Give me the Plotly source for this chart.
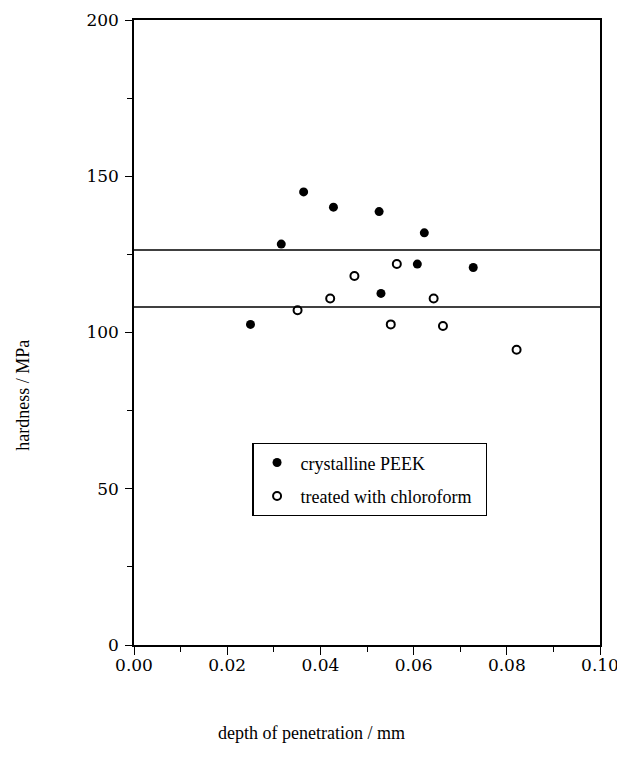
import plotly.graph_objects as go

# Data
peek_depth = [0.0250, 0.0316, 0.0364, 0.0428, 0.0526, 0.0530, 0.0608, 0.0623, 0.0728]
peek_hardness = [102.6, 128.3, 145.0, 140.1, 138.7, 112.5, 121.9, 131.9, 120.8]

chloro_depth = [0.0351, 0.0421, 0.0473, 0.0551, 0.0564, 0.0643, 0.0663, 0.0821]
chloro_hardness = [107.1, 110.9, 118.1, 102.6, 121.9, 110.9, 102.1, 94.5]

band_limits = [108.2, 126.4]

x_ticks = [0.00, 0.02, 0.04, 0.06, 0.08, 0.10]
y_ticks = [0, 50, 100, 150, 200]

series_names = ["crystalline PEEK", "treated with chloroform\u00a0\u00a0"]

serif = "Liberation Serif"
tickfont = dict(family="DejaVu Serif", size=17, color="black")

fig = go.Figure()
fig.add_trace(go.Scatter(
    x=peek_depth, y=peek_hardness, mode="markers", name=series_names[0],
    legendgroup="a",
    marker=dict(symbol="circle", size=9, color="black"),
))
fig.add_trace(go.Scatter(
    x=chloro_depth, y=chloro_hardness, mode="markers", name=series_names[1],
    legendgroup="b",
    marker=dict(symbol="circle-open", size=8, color="black", line=dict(width=2, color="black")),
))

for v in band_limits:
    fig.add_hline(y=v, line=dict(color="black", width=1.5))

fig.update_xaxes(
    range=[0, 0.1], tickvals=x_ticks, tickformat=".2f", automargin=False,
    showline=True, linecolor="black", linewidth=1.5, mirror=True,
    ticks="outside", ticklen=8, tickwidth=1.2, tickcolor="black",
    ticklabelstandoff=-4,
    minor=dict(dtick=0.01, ticks="outside", ticklen=5, tickwidth=1, tickcolor="black"),
    showgrid=False, zeroline=False, tickfont=tickfont,
)
fig.update_yaxes(
    range=[0, 200], tickvals=y_ticks, automargin=False,
    showline=True, linecolor="black", linewidth=1.5, mirror=True,
    ticks="outside", ticklen=7, tickwidth=1.2, tickcolor="black",
    ticklabelstandoff=3,
    minor=dict(dtick=25, ticks="outside", ticklen=5, tickwidth=1, tickcolor="black"),
    showgrid=False, zeroline=False, tickfont=tickfont,
)

fig.add_annotation(text="depth of penetration / mm", xref="paper", yref="paper",
                   x=0.38, y=-0.14, xanchor="center", yanchor="middle",
                   showarrow=False, font=dict(family=serif, size=18, color="black"))
fig.add_annotation(text="hardness / MPa", xref="paper", yref="paper",
                   x=-0.239, y=0.40, textangle=-90, xanchor="center", yanchor="middle",
                   showarrow=False, font=dict(family=serif, size=18, color="black"))

fig.update_layout(
    width=617, height=761,
    margin=dict(l=125.5, r=25, t=11.5, b=123.5),
    plot_bgcolor="white", paper_bgcolor="white",
    font=dict(family=serif, size=17, color="black"),
    showlegend=True,
    legend=dict(x=0.254, y=0.323, xanchor="left", yanchor="top",
                bordercolor="black", borderwidth=1.2, bgcolor="white",
                traceorder="grouped", tracegroupgap=7, itemwidth=37,
                font=dict(family=serif, size=18, color="black")),
)

fig.write_html("out.html")
